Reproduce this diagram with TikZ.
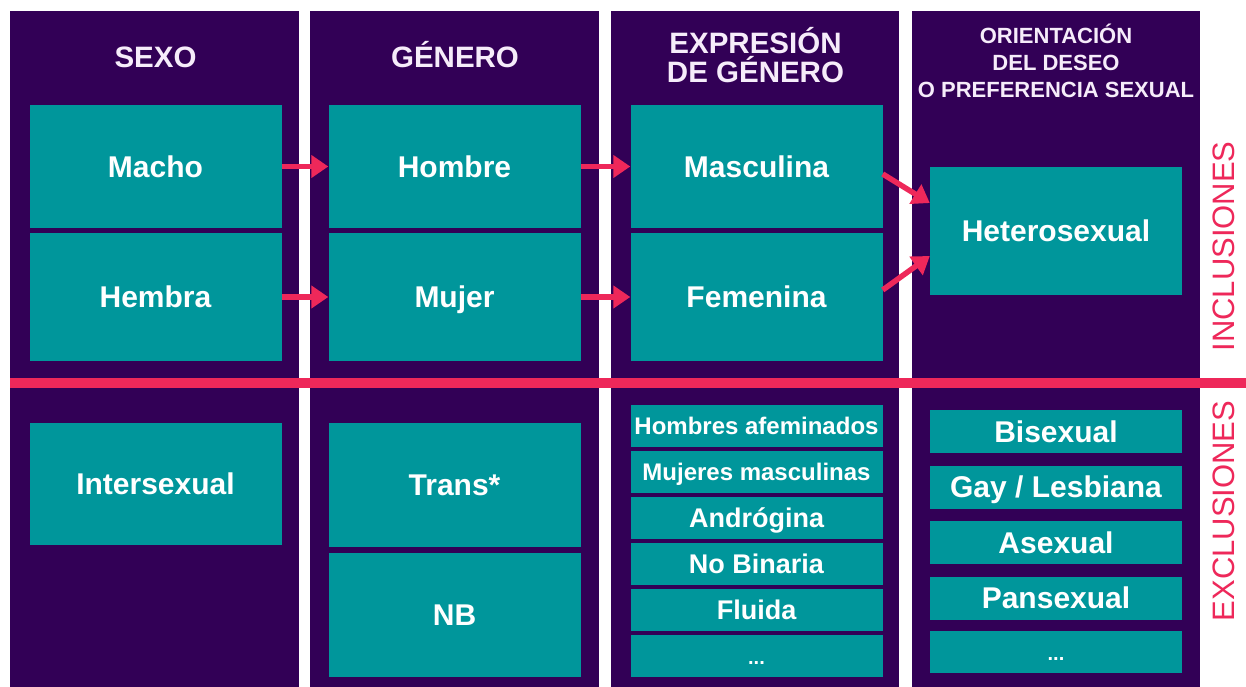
\documentclass[tikz,border=0pt]{standalone}
\usepackage{fontspec}
\setmainfont{Liberation Sans}
\usetikzlibrary{arrows.meta}

\definecolor{morado}{RGB}{50,0,86}
\definecolor{verde}{RGB}{0,150,155}
\definecolor{rosa}{RGB}{238,40,90}
\definecolor{lila}{RGB}{246,236,250}

\begin{document}
\begin{tikzpicture}[x=1pt, y=-1pt,
  caja/.style={fill=verde, text=white, inner sep=0pt, minimum width=252pt,
    text depth=0pt,
    font=\bfseries\fontsize{30}{30}\selectfont},
  puntos/.style={caja, text height=16pt, font=\bfseries\fontsize{20}{20}\selectfont},
  titulo/.style={text=lila, align=center, font=\bfseries\fontsize{29.5}{30}\selectfont},
  flecha/.style={rosa, line width=5.5pt, -{Triangle[length=17pt,width=22pt]}},
  lado/.style={text=rosa, rotate=90, font=\fontsize{31}{31}\selectfont}]

\useasboundingbox (0,0) rectangle (1246,687);
\fill[white] (0,0) rectangle (1246,687);

% Columns
\fill[morado] (10,11) rectangle (299,687);
\fill[morado] (310,11) rectangle (599,687);
\fill[morado] (611,11) rectangle (899,687);
\fill[morado] (912,11) rectangle (1200,687);

% Titles
\node[titulo] (sexo) at (155.5,57.5) {SEXO};
\node[titulo] (genero) at (455,55) {GÉNERO};
\node[titulo] (expresion) at (755.5,55) {EXPRESIÓN\\[-1pt] DE GÉNERO};
\node[titulo, font=\bfseries\fontsize{22}{27}\selectfont] (orientacion) at (1056,61)
  {ORIENTACIÓN\\ DEL DESEO\\ O PREFERENCIA SEXUAL};

% Inclusions
\node[caja, minimum height=123pt] (macho) at (155.5,166.5) {Macho};
\node[caja, minimum height=128pt] (hembra) at (155.5,297) {Hembra};
\node[caja, minimum height=123pt] (hombre) at (454.5,166.5) {Hombre};
\node[caja, minimum height=128pt] (mujer) at (454.5,297) {Mujer};
\node[caja, minimum height=123pt] (masculina) at (756.5,166.5) {Masculina};
\node[caja, minimum height=128pt] (femenina) at (756.5,297) {Femenina};
\node[caja, minimum height=128pt] (hetero) at (1056,231) {Heterosexual};

% Arrows
\draw[flecha] (macho) -- (hombre);
\draw[flecha] (hembra) -- (mujer);
\draw[flecha] (hombre) -- (masculina);
\draw[flecha] (mujer) -- (femenina);
\draw[flecha] ([yshift=-7.5pt]masculina.east) -- ([yshift=28pt]hetero.west);
\draw[flecha] ([yshift=7pt]femenina.east) -- ([yshift=-25pt]hetero.west);

% Divider
\draw[rosa, line width=10pt] (10,383) -- (1246,383);

% Exclusions
\node[caja, minimum height=122pt] (intersexual) at (155.5,484) {Intersexual};
\node[caja, minimum height=124pt] (trans) at (454.5,485) {Trans*};
\node[caja, minimum height=124pt] (nb) at (454.5,615) {NB};

\node[caja, minimum height=42pt, font=\bfseries\fontsize{24}{24}\selectfont] (afeminados) at (756.5,426) {Hombres afeminados};
\node[caja, minimum height=42pt, font=\bfseries\fontsize{24}{24}\selectfont] (masculinas) at (756.5,472) {Mujeres masculinas};
\node[caja, minimum height=42pt, font=\bfseries\fontsize{27}{27}\selectfont] (androgina) at (756.5,518) {Andrógina};
\node[caja, minimum height=42pt, font=\bfseries\fontsize{27}{27}\selectfont] (nobinaria) at (756.5,564) {No Binaria};
\node[caja, minimum height=42pt, font=\bfseries\fontsize{27}{27}\selectfont] (fluida) at (756.5,610) {Fluida};
\node[puntos, minimum height=42pt] (etcexp) at (756.5,656) {...};

\node[caja, minimum height=43pt] (bisexual) at (1056,431.5) {Bisexual};
\node[caja, minimum height=43pt] (gay) at (1056,487) {Gay / Lesbiana};
\node[caja, minimum height=43pt] (asexual) at (1056,542.5) {Asexual};
\node[caja, minimum height=43pt] (pansexual) at (1056,598) {Pansexual};
\node[puntos, minimum height=42pt] (etcori) at (1056,652) {...};

% Side labels
\node[lado] (incl) at (1224,246.5) {INCLUSIONES};
\node[lado] (excl) at (1224,511) {EXCLUSIONES};

\end{tikzpicture}
\end{document}
